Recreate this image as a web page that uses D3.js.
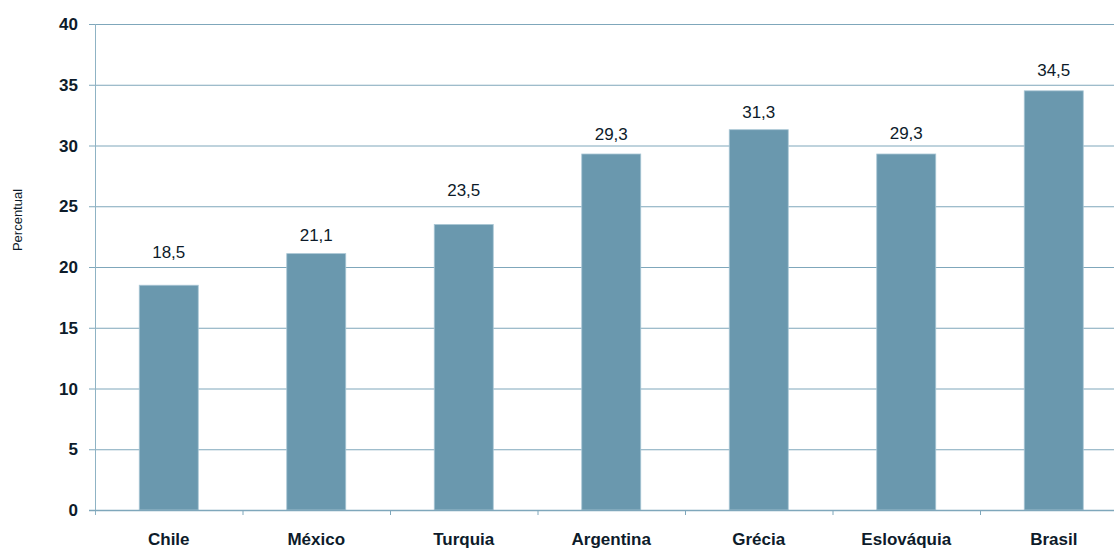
<!DOCTYPE html>
<html lang="pt">
<head>
<meta charset="utf-8">
<title>Percentual por país</title>
<script src="https://d3js.org/d3.v7.min.js"></script>
<style>
body{
  margin: 0;
  background: #fff;
}
text{
  font-family: "Liberation Sans", Arial, sans-serif;
  fill: #0d1b2a;
}
</style>
</head>
<body>
<svg id="chart" width="1114" height="548"></svg>
<script>
  var countries = ['Chile', 'México', 'Turquia', 'Argentina', 'Grécia', 'Eslováquia', 'Brasil'];
  var values = [18.5, 21.1, 23.5, 29.3, 31.3, 29.3, 34.5];
  var yTicks = [0, 5, 10, 15, 20, 25, 30, 35, 40];

  var svg = d3.select('svg');
  var plotLeft = 95, plotTop = 24, plotBottom = 510, plotRight = 95 + 7 * 147.5;

  var xScale = d3.scaleBand().domain(countries).range([plotLeft, plotRight]).paddingInner(0.6).paddingOuter(0.3),
      yScale = d3.scaleLinear().domain([0, 40]).range([plotBottom, plotTop]);

  var band = d3.scaleBand().domain(countries).range([plotLeft, plotRight]);

  // grid lines
  svg.append('g')
    .selectAll('line')
    .data(yTicks)
    .enter().append('line')
      .attr('x1', plotLeft - 6)
      .attr('x2', 1114)
      .attr('y1', function(d) { return yScale(d) + 0.5; })
      .attr('y2', function(d) { return yScale(d) + 0.5; })
      .attr('stroke', '#7fa7bb')
      .attr('stroke-width', 1);

  // y axis
  svg.append('line')
    .attr('x1', plotLeft + 0.5).attr('x2', plotLeft + 0.5)
    .attr('y1', plotTop).attr('y2', plotBottom + 5)
    .attr('stroke', '#8fb3c4');

  svg.append('g')
    .selectAll('text')
    .data(yTicks)
    .enter().append('text')
      .attr('x', 78)
      .attr('y', function(d) { return yScale(d); })
      .attr('dy', '0.36em')
      .attr('text-anchor', 'end')
      .attr('font-size', '17px')
      .attr('font-weight', 'bold')
      .text(function(d) { return d; });

  // category ticks
  svg.append('g')
    .selectAll('line')
    .data(countries.slice(1))
    .enter().append('line')
      .attr('x1', function(d) { return band(d) + 0.5; })
      .attr('x2', function(d) { return band(d) + 0.5; })
      .attr('y1', plotBottom)
      .attr('y2', plotBottom + 5)
      .attr('stroke', '#7fa7bb');

  // bars
  svg.append('g')
    .selectAll('rect')
    .data(values)
    .enter().append('rect')
      .attr('x', function(d, i) { return xScale(countries[i]); })
      .attr('y', function(d) { return yScale(d); })
      .attr('width', xScale.bandwidth())
      .attr('height', function(d) { return plotBottom - yScale(d); })
      .attr('fill', '#6a98ae')
      .attr('stroke', '#a9c6d4')
      .attr('stroke-width', 0.8);

  // bottom axis line on top of bars
  svg.append('line')
    .attr('x1', plotLeft - 6).attr('x2', 1114)
    .attr('y1', plotBottom + 0.5).attr('y2', plotBottom + 0.5)
    .attr('stroke', '#7fa7bb')
    .attr('stroke-width', 1.5);

  // value labels (some sit higher to clear the gridline, as in the original)
  var labelGap = [27, 13, 28, 14, 12, 15, 15];
  svg.append('g')
    .selectAll('text')
    .data(values)
    .enter().append('text')
      .attr('x', function(d, i) { return xScale(countries[i]) + xScale.bandwidth() / 2; })
      .attr('y', function(d, i) { return yScale(d) - labelGap[i]; })
      .attr('text-anchor', 'middle')
      .attr('font-size', '17px')
      .text(function(d) { return d.toFixed(1).replace('.', ','); });

  // category labels
  svg.append('g')
    .selectAll('text')
    .data(countries)
    .enter().append('text')
      .attr('x', function(d) { return band(d) + band.bandwidth() / 2; })
      .attr('y', 545)
      .attr('text-anchor', 'middle')
      .attr('font-size', '17px')
      .attr('font-weight', 'bold')
      .text(function(d) { return d; });

  svg.append('text')
    .attr('transform', 'translate(22,220) rotate(-90)')
    .attr('text-anchor', 'middle')
    .attr('font-size', '13px')
    .text('Percentual');
</script>
</body>
</html>
